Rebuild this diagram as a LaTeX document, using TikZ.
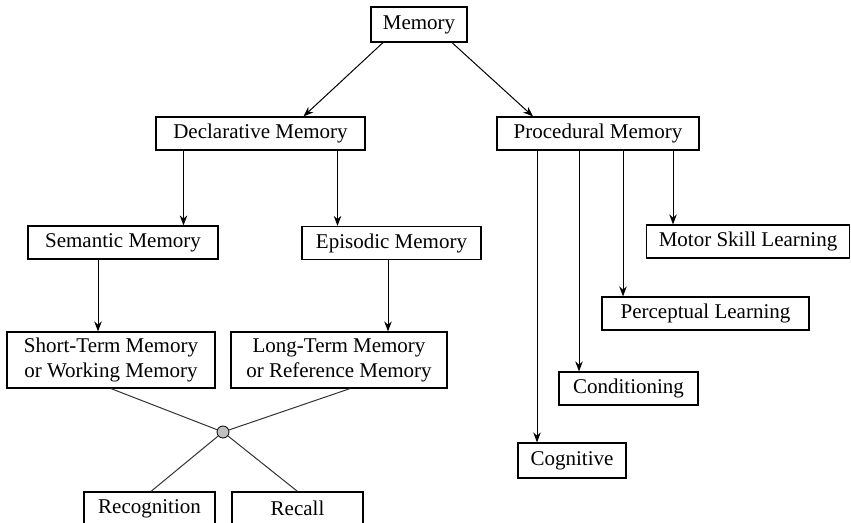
\documentclass[tikz,border=0pt]{standalone}
\usepackage{fontspec}
\setmainfont{Liberation Serif}
\usetikzlibrary{arrows.meta,positioning}
\tikzset{
  box/.style={
    draw,
    line width=1.2pt,
    align=center,
    font=\fontsize{21}{25}\selectfont,
    minimum height=33pt,
    inner sep=0pt
  },
  hub/.style={circle, draw, fill=black!25, line width=0.8pt, minimum size=12pt, inner sep=0pt},
  rel/.style={-{Stealth[length=10pt,width=7.5pt]}, line width=1pt},
  link/.style={line width=1pt, draw=black!80}
}

\begin{document}
\begin{tikzpicture}[x=1pt,y=-1pt]
  \useasboundingbox (0,0) rectangle (851,522);

  \node[box, minimum width=96pt, minimum height=35pt] (mem) at (419,24.5) {Memory};

  \node[box, minimum width=209pt] (decl) at (260.5,133.5) {Declarative Memory};
  \node[box, minimum width=202pt] (proc) at (598,133.5) {Procedural Memory};

  \node[box, minimum width=190pt] (sem) at (123,242.5) {Semantic Memory};
  \node[box, minimum width=179pt] (epi) at (391.5,243) {Episodic Memory};

  \node[box, minimum width=208pt, minimum height=56pt] (stm) at (111,360) {Short-Term Memory\\or Working Memory};
  \node[box, minimum width=216pt, minimum height=56pt] (ltm) at (339,360) {Long-Term Memory\\or Reference Memory};

  \node[hub] (mix) at (223,432) {};
  \node[box, minimum width=131pt] (recog) at (149.5,508.5) {Recognition};
  \node[box, minimum width=131pt] (recall) at (297.5,508.5) {Recall};

  \node[box, minimum width=203pt] (motor) at (748,241.5) {Motor Skill Learning};
  \node[box, minimum width=207pt] (perc) at (705.5,313.5) {Perceptual Learning};
  \node[box, minimum width=139pt] (cond) at (628.5,388.5) {Conditioning};
  \node[box, minimum width=108pt, minimum height=35pt] (cogn) at (572,460.5) {Cognitive};

  \draw[rel] ([xshift=-36pt]mem.south) -- ([xshift=43pt]decl.north);
  \draw[rel] ([xshift=33pt]mem.south) -- ([xshift=-65pt]proc.north);

  \draw[rel] ([xshift=-77pt]decl.south) -- ([xshift=-77pt]decl.south |- sem.north);
  \draw[rel] ([xshift=77pt]decl.south) -- ([xshift=77pt]decl.south |- epi.north);

  \draw[rel] ([xshift=-25pt]sem.south) -- ([xshift=-25pt]sem.south |- stm.north);
  \draw[rel] ([xshift=-3.5pt]epi.south) -- ([xshift=-3.5pt]epi.south |- ltm.north);

  \draw[link] (stm.south) -- (mix);
  \draw[link] ([xshift=11pt]ltm.south) -- (mix);
  \draw[link] (mix) -- ([xshift=1.5pt]recog.north);
  \draw[link] (mix) -- (recall.north);

  \draw[rel] ([xshift=-61pt]proc.south) -- ([xshift=-61pt]proc.south |- cogn.north);
  \draw[rel] ([xshift=-19pt]proc.south) -- ([xshift=-19pt]proc.south |- cond.north);
  \draw[rel] ([xshift=25pt]proc.south) -- ([xshift=25pt]proc.south |- perc.north);
  \draw[rel] ([xshift=75pt]proc.south) -- ([xshift=75pt]proc.south |- motor.north);
\end{tikzpicture}
\end{document}
